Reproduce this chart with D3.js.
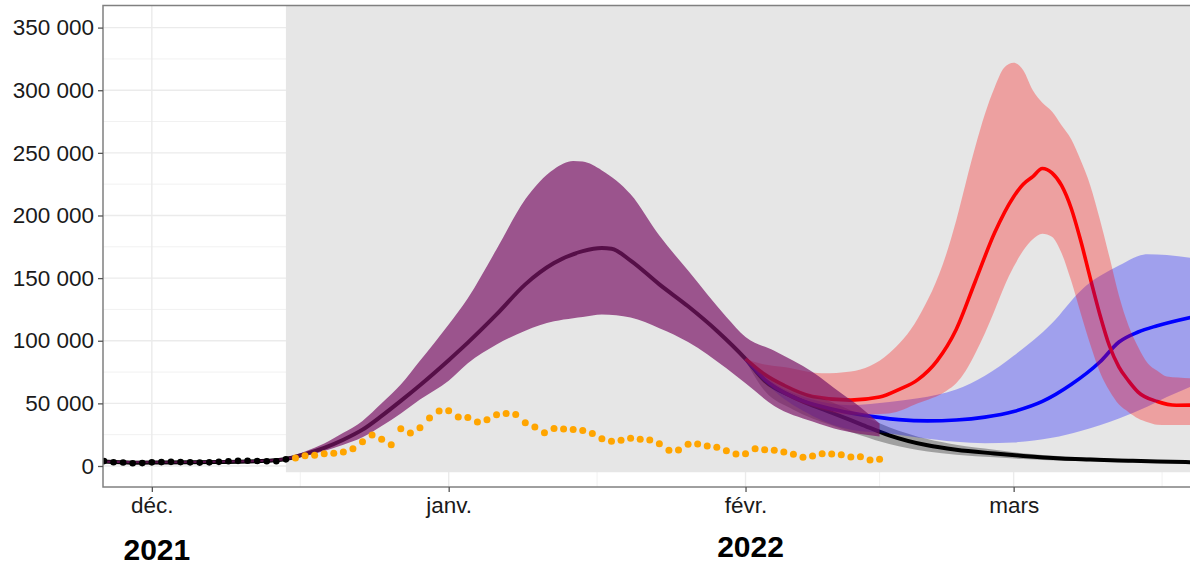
<!DOCTYPE html>
<html>
<head>
<meta charset="utf-8">
<script src="https://cdn.jsdelivr.net/npm/d3@7"></script>
<style>
  body { margin: 0; background: #fff; }
  svg { display: block; }
  text { font-family: "Liberation Sans", Arial, sans-serif; }
</style>
</head>
<body>
<svg id="chart" width="1190" height="565"></svg>
<script>
// ---- observed daily counts ----
const obsStart = "2021-11-26";
const obsValues = [3900, 3000, 2800, 2200, 2300, 2900, 3100, 3300, 3100, 2900,
                   2700, 2900, 3300, 3800, 4100, 4200, 4000, 3800, 3800, 5300];

const newStart = "2021-12-16";
const newValues = [6400, 8200, 8500, 9800, 10100, 11200, 13800, 19400, 24700, 21300,
                   17000, 29800, 26300, 30600, 38300, 43900,
                   44100, 39100, 38800, 35100, 37000, 40900, 42000, 41200, 34600, 31100,
                   26600, 30000, 29500, 29200, 28400, 26000, 21800, 19700, 20500, 22100,
                   21300, 20700, 17800, 12500, 12800, 17300, 17500, 16000, 14900, 12200, 9600,
                   9800, 13800, 13000, 12500, 11200, 9300, 6900, 8000, 9800, 9600,
                   9000, 7200, 7400, 4800, 5300];

// ---- central projection ----
const centralDates = ["2021-11-26","2021-11-29","2021-12-02","2021-12-05","2021-12-08","2021-12-11",
  "2021-12-13","2021-12-15","2021-12-17","2021-12-19","2021-12-21","2021-12-23","2021-12-25",
  "2021-12-27","2021-12-29","2022-01-01","2022-01-03","2022-01-06","2022-01-09","2022-01-12",
  "2022-01-15","2022-01-17","2022-01-18","2022-01-20","2022-01-23","2022-01-26","2022-01-29",
  "2022-02-01","2022-02-03","2022-02-06","2022-02-10","2022-02-13","2022-02-16","2022-02-20",
  "2022-02-23","2022-02-27","2022-03-02","2022-03-06","2022-03-09","2022-03-13","2022-03-16",
  "2022-03-20"];
const centralValues = [3500, 2600, 2800, 3000, 3200, 3500, 4100, 5600, 9500, 14500, 21000,
  29000, 40000, 52000, 64500, 84500, 98500, 121000, 145000, 162000, 171500, 174000, 173500,
  164000, 145000, 127500, 108000, 85500, 68000, 55000, 42500, 33500, 24500, 16500, 13000,
  10000, 8000, 6000, 5200, 4200, 3500, 3000];

// interval of the December projection
const decBandDates = ["2021-11-26","2021-12-01","2021-12-06","2021-12-10","2021-12-13","2021-12-15",
  "2021-12-17","2021-12-19","2021-12-21","2021-12-23","2021-12-25","2021-12-27","2021-12-29",
  "2022-01-01","2022-01-03","2022-01-06","2022-01-09","2022-01-12","2022-01-14","2022-01-15",
  "2022-01-17","2022-01-20","2022-01-23","2022-01-26","2022-01-30","2022-02-01","2022-02-04",
  "2022-02-08","2022-02-11","2022-02-13","2022-02-15"];
const decBandLow = [2600, 2100, 2400, 2700, 3300, 4600, 8000, 12000, 17000, 23000, 32000,
  42000, 53000, 68000, 82000, 97000, 108000, 115500, 118000, 119000, 121000, 118500, 110000,
  99000, 78000, 66000, 48000, 35500, 28500, 25500, 23500];
const decBandHigh = [4300, 3700, 4000, 4500, 5200, 6800, 11500, 18000, 26500, 36000, 50000,
  65000, 84000, 113000, 134000, 173000, 213000, 237000, 243500, 243000, 236000, 217000,
  184000, 156000, 119000, 103000, 92000, 75000, 58000, 47000, 34000];

// interval around the central projection
const baseBandDates = ["2022-02-01","2022-02-03","2022-02-06","2022-02-10",
  "2022-02-13","2022-02-16","2022-02-20","2022-02-23","2022-02-27","2022-03-02","2022-03-06",
  "2022-03-09","2022-03-13","2022-03-16","2022-03-20"];
const baseBandLow = [84000, 60000, 45000, 32500, 24500, 17500, 11500, 9000, 6900,
  5500, 4200, 3700, 2900, 2400, 2100];
const baseBandHigh = [87000, 75000, 62000, 51000, 41000, 31000, 21500, 17000, 13000,
  10200, 7800, 6800, 5400, 4500, 4000];

// ---- scenario "red" ----
const redDates = ["2022-02-01","2022-02-03","2022-02-05","2022-02-08","2022-02-12","2022-02-15",
  "2022-02-17","2022-02-19","2022-02-21","2022-02-23","2022-02-25","2022-02-27","2022-03-01",
  "2022-03-02","2022-03-03","2022-03-04","2022-03-05","2022-03-06","2022-03-07","2022-03-08",
  "2022-03-09","2022-03-10","2022-03-11","2022-03-12","2022-03-13","2022-03-14","2022-03-16",
  "2022-03-18","2022-03-20"];
const redValues = [85500, 73000, 64500, 55500, 52600, 55000, 61000, 69000, 84000, 109000,
  147500, 186000, 215000, 225000, 231000, 237500, 234000, 224000, 206000, 180000, 150000,
  121000, 96000, 79000, 68000, 59000, 51500, 48500, 48600];
const redBandDates = ["2022-02-01","2022-02-03","2022-02-05","2022-02-09","2022-02-12",
  "2022-02-16","2022-02-19","2022-02-22","2022-02-23","2022-02-24","2022-02-25","2022-02-26",
  "2022-02-27","2022-02-28","2022-03-01","2022-03-02","2022-03-03","2022-03-04","2022-03-05",
  "2022-03-06","2022-03-07","2022-03-08","2022-03-09","2022-03-10","2022-03-11","2022-03-12",
  "2022-03-13","2022-03-14","2022-03-15","2022-03-16","2022-03-17","2022-03-20"];
const redBandLow = [85500, 68000, 57000, 45000, 41000, 42000, 50000, 60000, 66000, 76000,
  90000, 106000, 124000, 143000, 159000, 172000, 181000, 185500, 183000, 170000, 148000,
  122000, 97000, 75000, 60000, 49000, 43000, 38000, 35000, 33000, 32700, 32700];
const redBandHigh = [85500, 81000, 79000, 74000, 75500, 90000, 118000, 170000, 196000, 226000,
  255000, 281000, 302000, 318000, 322000, 316000, 300000, 290000, 283000, 272000, 261000,
  244000, 224000, 197000, 167000, 136000, 112000, 95000, 82000, 76000, 71500, 70000];

// ---- scenario "blue" ----
const blueDates = ["2022-02-01","2022-02-03","2022-02-06","2022-02-10","2022-02-13","2022-02-17",
  "2022-02-20","2022-02-23","2022-02-26","2022-03-01","2022-03-04","2022-03-07","2022-03-10",
  "2022-03-12","2022-03-14","2022-03-16","2022-03-20"];
const blueValues = [85500, 69000, 55000, 45500, 41000, 37000, 36000, 36700, 39000, 43500,
  51500, 65000, 83000, 99000, 107000, 112000, 119500];
const blueBandDates = ["2022-02-01","2022-02-04","2022-02-08","2022-02-12","2022-02-16",
  "2022-02-19","2022-02-23","2022-02-26","2022-03-01","2022-03-05","2022-03-08","2022-03-12",
  "2022-03-15","2022-03-17","2022-03-20"];
const blueBandLow = [85500, 60000, 40000, 29000, 26000, 22800, 19400, 18200, 18800, 22500,
  28000, 38000, 47500, 55000, 65000];
const blueBandHigh = [85500, 66000, 53000, 48500, 51000, 54000, 61000, 72000, 88000, 114000,
  140000, 160000, 169000, 168500, 165500];

// ---- axes ----
const yTicks = [0, 50000, 100000, 150000, 200000, 250000, 300000, 350000];
const yMinor = [25000, 75000, 125000, 175000, 225000, 275000, 325000];
const monthTicks = ["2021-12-01", "2022-01-01", "2022-02-01", "2022-03-01"];
const monthLabels = ["déc.", "janv.", "févr.", "mars"];
const monthMinor = ["2021-12-16T12", "2022-01-16T12", "2022-02-15T00", "2022-03-16T12"];
const yearDates = ["2021-12-01", "2022-02-01"];
const yearLabels = ["2021", "2022"];
const projectionStart = "2021-12-15";

// ---------------------------------------------------------------
const parse = d3.utcParse("%Y-%m-%d");
const parseH = d3.utcParse("%Y-%m-%dT%H");

const svg = d3.select("#chart");
const pLeft = 103, pRight = 1190, pTop = 5.5, pBottom = 487;

const x = d3.scaleUtc()
  .domain([new Date(Date.UTC(2021, 10, 25, 21, 36)), new Date(Date.UTC(2022, 2, 19, 10))])
  .range([pLeft, pRight]);
const y = d3.scaleLinear().domain([-16765, 367640]).range([pBottom, pTop]);

const loc = d3.formatLocale({decimal: ",", thousands: " ", grouping: [3], currency: ["", " €"]});
const fmt = loc.format(",d");

svg.append("defs").append("clipPath").attr("id", "panel")
  .append("rect").attr("x", pLeft).attr("y", pTop)
  .attr("width", pRight - pLeft).attr("height", pBottom - pTop);

const panel = svg.append("g").attr("clip-path", "url(#panel)");
panel.append("rect").attr("x", pLeft).attr("y", pTop)
  .attr("width", pRight - pLeft).attr("height", pBottom - pTop).attr("fill", "#fff");

// grid
panel.selectAll("line.hmin").data(yMinor).join("line")
  .attr("x1", pLeft).attr("x2", pRight).attr("y1", d => y(d)).attr("y2", d => y(d))
  .attr("stroke", "#f1f1f1").attr("stroke-width", 1);
panel.selectAll("line.vmin").data(monthMinor.map(parseH)).join("line")
  .attr("y1", pTop).attr("y2", pBottom).attr("x1", d => x(d)).attr("x2", d => x(d))
  .attr("stroke", "#f1f1f1").attr("stroke-width", 1);
panel.selectAll("line.hmaj").data(yTicks).join("line")
  .attr("x1", pLeft).attr("x2", pRight).attr("y1", d => y(d)).attr("y2", d => y(d))
  .attr("stroke", "#ebebeb").attr("stroke-width", 1.4);
panel.selectAll("line.vmaj").data(monthTicks.map(parse)).join("line")
  .attr("y1", pTop).attr("y2", pBottom).attr("x1", d => x(d)).attr("x2", d => x(d))
  .attr("stroke", "#ebebeb").attr("stroke-width", 1.4);

// projection period shading
panel.append("rect")
  .attr("x", x(parse(projectionStart))).attr("y", pTop)
  .attr("width", pRight - x(parse(projectionStart)))
  .attr("height", y(-5000) - pTop)
  .attr("fill", "#e6e6e6");

const toSeries = (dates, vals) => dates.map((d, i) => ({date: parse(d), v: vals[i]}));
const toBand = (dates, lo, hi) => dates.map((d, i) => ({date: parse(d), lo: lo[i], hi: hi[i]}));

const line = d3.line().x(d => x(d.date)).y(d => y(d.v)).curve(d3.curveMonotoneX);
const area = d3.area().x(d => x(d.date)).y0(d => y(d.lo)).y1(d => y(d.hi)).curve(d3.curveMonotoneX);

// lines
panel.append("path").datum(toSeries(centralDates, centralValues))
  .attr("d", line).attr("fill", "none").attr("stroke", "#000").attr("stroke-width", 4)
  .attr("stroke-linejoin", "round");
panel.append("path").datum(toSeries(blueDates, blueValues))
  .attr("d", line).attr("fill", "none").attr("stroke", "#0000ff").attr("stroke-width", 3.6)
  .attr("stroke-linejoin", "round");
panel.append("path").datum(toSeries(redDates, redValues))
  .attr("d", line).attr("fill", "none").attr("stroke", "#ff0000").attr("stroke-width", 3.6)
  .attr("stroke-linejoin", "round");

// intervals
panel.append("path").datum(toBand(baseBandDates, baseBandLow, baseBandHigh))
  .attr("d", area).attr("fill", "#000").attr("fill-opacity", 0.3);
panel.append("path").datum(toBand(blueBandDates, blueBandLow, blueBandHigh))
  .attr("d", area).attr("fill", "#0000ff").attr("fill-opacity", 0.3);
panel.append("path").datum(toBand(redBandDates, redBandLow, redBandHigh))
  .attr("d", area).attr("fill", "#ff0000").attr("fill-opacity", 0.3);
panel.append("path").datum(toBand(decBandDates, decBandLow, decBandHigh))
  .attr("d", area).attr("fill", "#7a1566").attr("fill-opacity", 0.7);

// observations
const obs = obsValues.map((v, i) => ({date: d3.utcDay.offset(parse(obsStart), i), v}));
const obsNew = newValues.map((v, i) => ({date: d3.utcDay.offset(parse(newStart), i), v}));
panel.selectAll("circle.obs").data(obs).join("circle")
  .attr("cx", d => x(d.date)).attr("cy", d => y(d.v)).attr("r", 3.3).attr("fill", "#000");
panel.selectAll("circle.new").data(obsNew).join("circle")
  .attr("cx", d => x(d.date)).attr("cy", d => y(d.v)).attr("r", 3.5).attr("fill", "#ffa500");

// panel border
svg.append("rect").attr("x", pLeft).attr("y", pTop)
  .attr("width", pRight - pLeft + 2).attr("height", pBottom - pTop)
  .attr("fill", "none").attr("stroke", "#808080").attr("stroke-width", 1.5);

// axes
const yAxis = svg.append("g").attr("transform", `translate(${pLeft},0)`)
  .call(d3.axisLeft(y).tickValues(yTicks).tickFormat(fmt).tickSize(5).tickPadding(4));
const xAxis = svg.append("g").attr("transform", `translate(0,${pBottom})`)
  .call(d3.axisBottom(x).tickValues(monthTicks.map(parse))
    .tickFormat((d, i) => monthLabels[i]).tickSize(5).tickPadding(5));
[yAxis, xAxis].forEach(g => {
  g.select(".domain").remove();
  g.selectAll(".tick line").attr("stroke", "#555").attr("stroke-width", 1.3);
  g.selectAll(".tick text").attr("fill", "#1a1a1a")
    .style("font-size", "22.5px").style("font-family", '"Liberation Sans", Arial, sans-serif');
});

// year labels
svg.selectAll("text.year").data(yearDates).join("text")
  .attr("x", d => x(parse(d)) + 5)
  .attr("y", (d, i) => i === 0 ? 560 : 557)
  .attr("text-anchor", "middle")
  .style("font-size", "30px").style("font-weight", "bold").attr("fill", "#000")
  .text((d, i) => yearLabels[i]);
</script>
</body>
</html>
